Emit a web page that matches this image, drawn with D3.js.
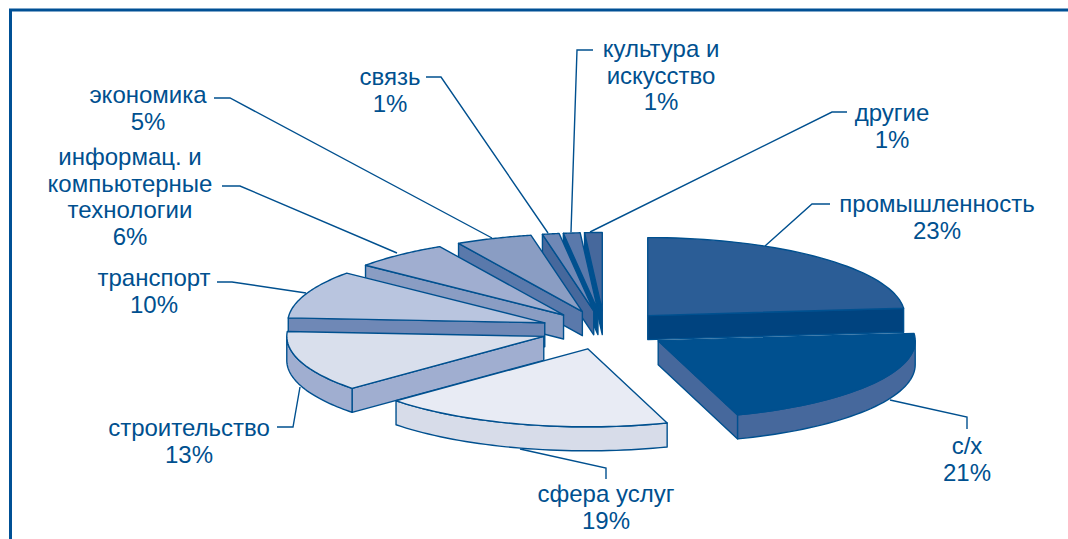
<!DOCTYPE html>
<html>
<head>
<meta charset="utf-8">
<script src="https://cdn.jsdelivr.net/npm/d3@7"></script>
<style>
  html, body { margin: 0; padding: 0; background: #fff; }
  svg { display: block; }
  text { font-family: "Liberation Sans", Arial, sans-serif; font-size: 24px; fill: #00508f; text-anchor: middle; }
</style>
</head>
<body>
<div id="chart"></div>
<script>
// labels, clockwise from 12 o'clock
const categories = [
  ["промышленность"],
  ["с/х"],
  ["сфера услуг"],
  ["строительство"],
  ["транспорт"],
  ["информац. и", "компьютерные", "технологии"],
  ["экономика"],
  ["связь"],
  ["культура и", "искусство"],
  ["другие"],
];
const percentLabels = ["23%", "21%", "19%", "13%", "10%", "6%", "5%", "1%", "1%", "1%"];
// shares as drawn in the picture (the slices are a bit off their printed labels)
const shares = [23.5, 21.5, 18.4, 12.6, 10, 6, 4.8, 1.05, 1.05, 1.1];

const topColors = ["#2b5d96", "#00508f", "#e8ebf4", "#d9dfec", "#b9c5df", "#a0aed0", "#8a9dc3", "#6f88b6", "#5a79ab", "#46689c"];
const sideColors = ["#00437f", "#46689c", "#d7dce9", "#a0aed0", "#6f88b6", "#8a9dc3", "#5a79ab", "#46689c", "#00508f", "#00508f"];

// where the text blocks sit (centre x, baseline of first line)
const labelX = [937, 967, 606, 189, 154, 130, 148, 390, 661, 892];
const labelY = [212, 454, 502, 436, 286, 165, 103, 85, 57, 121];
const lineStep = 26.5;

// leader lines: rim point, elbow, end
const leaders = [
  [[765, 246], [812, 204], [830, 204]],
  [[890, 400], [967, 417], [967, 429]],
  [[520, 449], [606, 468], [606, 479]],
  [[300, 387], [293, 427], [277, 427]],
  [[306, 293], [232, 282], [217, 282]],
  [[397, 253], [240, 186], [222, 186]],
  [[492, 238], [230, 98], [214, 98]],
  [[548, 233], [441, 77], [426, 77]],
  [[571, 232], [577, 50], [593, 50]],
  [[590, 232], [832, 112], [847, 112]],
];

const width = 1068;
const height = 539;
const cx = 604.5;
const cy = 330;
const rx = 257;
const ry = 78;
const depth = 24;
const explode = 0.25;

const svg = d3.select("#chart").append("svg").attr("width", width).attr("height", height);

// frame
svg.append("path")
  .attr("d", `M${width},10H10.5V${height}`)
  .attr("fill", "none")
  .attr("stroke", "#005095")
  .attr("stroke-width", 3);

const x = d3.scaleLinear().domain([-1, 1]).range([cx - rx, cx + rx]);
const y = d3.scaleLinear().domain([-1, 1]).range([cy + ry, cy - ry]);

const arcs = d3.pie().value((d) => d).sort(null)(shares);
const line = d3.line();

const rightAngle = Math.PI / 2;

function drawSlice(i) {
  const a = arcs[i];
  const mid = (a.startAngle + a.endAngle) / 2;
  const ox = explode * Math.sin(mid);
  const oy = explode * Math.cos(mid);
  const pt = (ang, drop = 0) => [x(ox + Math.sin(ang)), y(oy + Math.cos(ang)) + drop];
  const apex = (drop = 0) => [x(ox), y(oy) + drop];
  const sweep = (from, to, drop = 0) =>
    d3.range(0, 41).map((k) => pt(from + ((to - from) * k) / 40, drop));

  const g = svg.append("g")
    .attr("stroke", "#00508f")
    .attr("stroke-width", 1.4)
    .attr("stroke-linejoin", "round");

  // radial walls that face the viewer
  if (Math.sin(a.startAngle) < 0) {
    g.append("path")
      .attr("fill", sideColors[i])
      .attr("d", line([apex(), pt(a.startAngle), pt(a.startAngle, depth), apex(depth)]) + "Z");
  }
  if (Math.sin(a.endAngle) > 0.001) {
    g.append("path")
      .attr("fill", sideColors[i])
      .attr("d", line([apex(), pt(a.endAngle), pt(a.endAngle, depth), apex(depth)]) + "Z");
  }

  // outer rim, front half only
  const from = Math.max(a.startAngle, rightAngle);
  const to = Math.min(a.endAngle, 3 * rightAngle);
  if (to > from) {
    g.append("path")
      .attr("fill", sideColors[i])
      .attr("d", line([...sweep(from, to), ...sweep(to, from, depth)]) + "Z");
  }

  g.append("path")
    .attr("fill", topColors[i])
    .attr("d", line([apex(), ...sweep(a.startAngle, a.endAngle)]) + "Z");
}

// leader lines go under the slices
svg.append("g")
  .selectAll("path")
  .data(leaders)
  .enter()
  .append("path")
  .attr("d", (d) => line(d))
  .attr("fill", "none")
  .attr("stroke", "#00508f")
  .attr("stroke-width", 1.4);

// back to front
[9, 8, 7, 6, 5, 4, 3, 0, 1, 2].forEach(drawSlice);

categories.forEach((lines, i) => {
  const t = svg.append("text").attr("x", labelX[i]).attr("y", labelY[i]);
  [...lines, percentLabels[i]].forEach((s, k) => {
    t.append("tspan").attr("x", labelX[i]).attr("dy", k ? lineStep : 0).text(s);
  });
});
</script>
</body>
</html>
